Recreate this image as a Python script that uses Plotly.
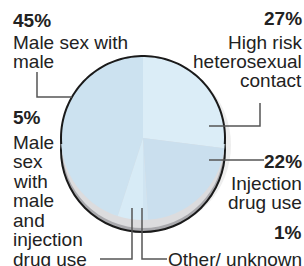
import numpy as np
import plotly.graph_objects as go

W, H = 304, 266

categories = ["High risk heterosexual contact", "Injection drug use", "Other/ unknown",
              "Male sex with male and injection drug use", "Male sex with male"]
values = [27, 22, 1, 5, 45]
slice_colors = ["#dbedf7", "#cadfee", "#d0e4f1", "#d7ebf6", "#cce2f0"]

def px(x):
    return x / W

def py(y):
    return 1 - y / H

# pie geometry (pixels)
cx, cy, r = 143, 138, 82
depth = 12

fig = go.Figure()
fig.add_trace(go.Pie(
    labels=categories, values=values, sort=False, direction="clockwise", rotation=0,
    marker=dict(colors=slice_colors, line=dict(width=0)),
    textinfo="none", hoverinfo="label+percent", showlegend=False,
    domain=dict(x=[px(cx - r), px(cx + r)], y=[py(cy + r), py(cy - r)]),
))

shapes = []
# soft shadow
shapes.append(dict(type="circle", xref="paper", yref="paper", layer="below",
                   x0=px(cx - r + 4), x1=px(cx + r + 6), y0=py(cy + depth + r - 2), y1=py(cy - r + 4),
                   fillcolor="#eeeeee", line=dict(width=0)))
# side of the disc
shapes.append(dict(type="circle", xref="paper", yref="paper", layer="below",
                   x0=px(cx - r), x1=px(cx + r), y0=py(cy + depth + r), y1=py(cy + depth - r),
                   fillcolor="#a9a9ad", line=dict(color="#1a1a1a", width=2)))
shapes.append(dict(type="circle", xref="paper", yref="paper", layer="below",
                   x0=px(cx - r + 1), x1=px(cx + r - 1), y0=py(cy + depth - 4 + r), y1=py(cy + depth - 4 - r),
                   fillcolor="#dcdcde", line=dict(width=0)))

# upper outline of the face
yint = cy + depth / 2
a0 = np.arcsin((yint - cy) / r)
angles = np.linspace(-a0, np.pi + a0, 80)
pts = [(cx - r * np.cos(t), cy - r * np.sin(t)) for t in angles]
path = "M " + " L ".join(f"{px(x):.5f},{py(y):.5f}" for x, y in pts)
shapes.append(dict(type="path", xref="paper", yref="paper", layer="above", path=path,
                   line=dict(color="#1a1a1a", width=2)))

# callout lines (pixels)
callouts = [
    [(37, 72), (37, 97), (72, 97)],
    [(209, 126), (260, 126), (260, 103)],
    [(209, 160), (264, 160)],
    [(132, 208), (132, 259), (100, 259)],
    [(142, 208), (142, 259), (167, 259)],
]
for c in callouts:
    p = "M " + " L ".join(f"{px(x):.5f},{py(y):.5f}" for x, y in c)
    shapes.append(dict(type="path", xref="paper", yref="paper", layer="above", path=p,
                       line=dict(color="#555555", width=1.5)))

FONT = "Liberation Sans, Arial, sans-serif"
TXT = "#222222"
annotations = []

def label(text, x, y, anchor, bold=False):
    annotations.append(dict(
        text=f"<b>{text}</b>" if bold else text, xref="paper", yref="paper",
        x=px(x), y=py(y), xanchor=anchor, yanchor="middle", showarrow=False,
        font=dict(family=FONT, size=19, color=TXT), borderpad=0))

# left column
label("45%", 12, 20, "left", True)
label("Male sex with", 12, 43, "left")
label("male", 12, 61, "left")
label("5%", 12, 117, "left", True)
for i, t in enumerate(["Male", "sex", "with", "male", "and", "injection", "drug use"]):
    label(t, 12, 142 + i * 19.5, "left")

# right column
label("27%", 303, 19, "right", True)
label("High risk", 303, 43, "right")
label("heterosexual", 303, 61, "right")
label("contact", 303, 80, "right")
label("22%", 303, 161, "right", True)
label("Injection", 303, 183, "right")
label("drug use", 303, 202, "right")
label("1%", 303, 232, "right", True)
label("Other/ unknown", 303, 259, "right")

fig.update_layout(width=W, height=H, margin=dict(l=0, r=0, t=0, b=0),
                  paper_bgcolor="white", plot_bgcolor="white",
                  shapes=shapes, annotations=annotations)
fig.write_html("out.html", config={"displayModeBar": False},
               post_script="document.body.style.margin='0';document.body.style.overflow='hidden';")
